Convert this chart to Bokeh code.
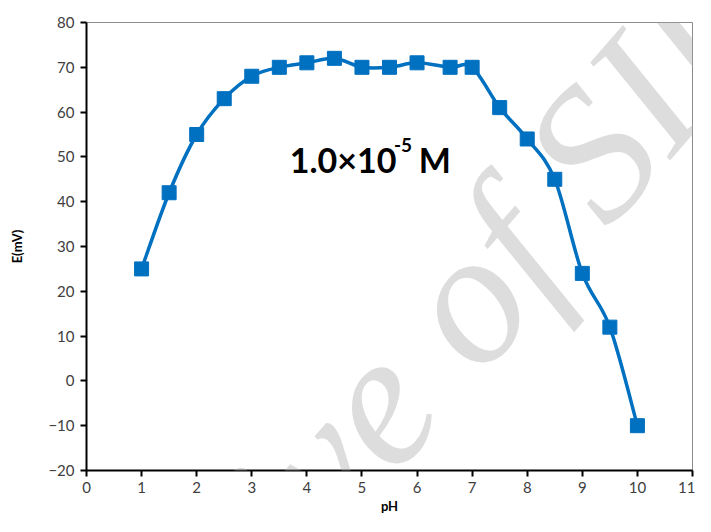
from bokeh.plotting import figure
from bokeh.models import Range1d, Label, FixedTicker, ColumnDataSource
from bokeh.embed import file_html
from bokeh.resources import INLINE

# data
ph = [1, 1.5, 2, 2.5, 3, 3.5, 4, 4.5, 5, 5.5, 6, 6.6, 7, 7.5, 8, 8.5, 9, 9.5, 10]
emv = [25, 42, 55, 63, 68, 70, 71, 72, 70, 70, 71, 70, 70, 61, 54, 45, 24, 12, -10]
x_ticks = list(range(0, 12))
y_ticks = list(range(-20, 90, 10))

BLUE = "#0070C0"

p = figure(width=695, height=516, output_backend="svg", toolbar_location=None,
           x_range=Range1d(0, 11), y_range=Range1d(-20, 80),
           min_border_left=86, min_border_right=3, min_border_top=22, min_border_bottom=46)
p.background_fill_color = "white"
p.border_fill_color = "white"
p.grid.visible = False
p.outline_line_color = "#8c8c8c"
p.outline_line_width = 1

for ax in (p.xaxis[0], p.yaxis[0]):
    ax.axis_line_color = "black"
    ax.axis_line_width = 2
    ax.major_tick_line_color = "black"
    ax.major_tick_line_width = 2
    ax.major_tick_in = 0
    ax.major_tick_out = 6
    ax.minor_tick_line_color = None
    ax.major_label_text_font = "Lato"
    ax.major_label_text_font_size = "15px"
    ax.major_label_text_color = "#404040"
    ax.axis_label_text_font = "Lato"
    ax.axis_label_text_font_style = "bold"
    ax.axis_label_text_font_size = "13px"
    ax.axis_label_text_color = "black"

p.xaxis.ticker = FixedTicker(ticks=x_ticks)
p.yaxis.ticker = FixedTicker(ticks=y_ticks)
p.xaxis.major_label_standoff = 5
p.yaxis.major_label_standoff = 6
p.xaxis.axis_label = "pH"
p.xaxis.axis_label_standoff = 2
p.yaxis.axis_label = "E(mV)"
p.yaxis.axis_label_standoff = 20

# smooth (bezier) connecting curve
n = len(ph)
x0, y0, x1, y1, cx0, cy0, cx1, cy1 = [], [], [], [], [], [], [], []
for i in range(n - 1):
    pm = (ph[i - 1], emv[i - 1]) if i > 0 else (ph[i], emv[i])
    pa = (ph[i], emv[i])
    pb = (ph[i + 1], emv[i + 1])
    pn = (ph[i + 2], emv[i + 2]) if i + 2 < n else pb
    x0.append(pa[0]); y0.append(pa[1]); x1.append(pb[0]); y1.append(pb[1])
    cx0.append(pa[0] + (pb[0] - pm[0]) / 6); cy0.append(pa[1] + (pb[1] - pm[1]) / 6)
    cx1.append(pb[0] - (pn[0] - pa[0]) / 6); cy1.append(pb[1] - (pn[1] - pa[1]) / 6)
src = ColumnDataSource(dict(x0=x0, y0=y0, x1=x1, y1=y1, cx0=cx0, cy0=cy0, cx1=cx1, cy1=cy1))
p.bezier(x0="x0", y0="y0", x1="x1", y1="y1", cx0="cx0", cy0="cy0", cx1="cx1", cy1="cy1",
         source=src, line_color=BLUE, line_width=3.5)

p.scatter(ph, emv, marker="square", size=14, fill_color=BLUE, line_color=BLUE)

# annotation text
p.add_layout(Label(x=3.69, y=49.4, text="1.0×10", text_font="Lato", text_font_style="bold",
                   text_font_size="34px", text_color="black", text_baseline="alphabetic"))
p.add_layout(Label(x=5.58, y=52.6, text="-5", text_font="Lato", text_font_style="bold",
                   text_font_size="19px", text_color="black", text_baseline="alphabetic"))
p.add_layout(Label(x=6.03, y=49.4, text="M", text_font="Lato", text_font_style="bold",
                   text_font_size="34px", text_color="black", text_baseline="alphabetic"))

# watermark
p.add_layout(Label(x=5.43, y=-2.0, text="Archive of SID", angle=0.855, text_align="center",
                   text_baseline="middle", text_font="Liberation Serif",
                   text_font_style="italic", text_font_size="190px",
                   text_color="#b4b4b4", text_alpha=0.45))

open("out.html", "w").write(file_html(p, INLINE))
